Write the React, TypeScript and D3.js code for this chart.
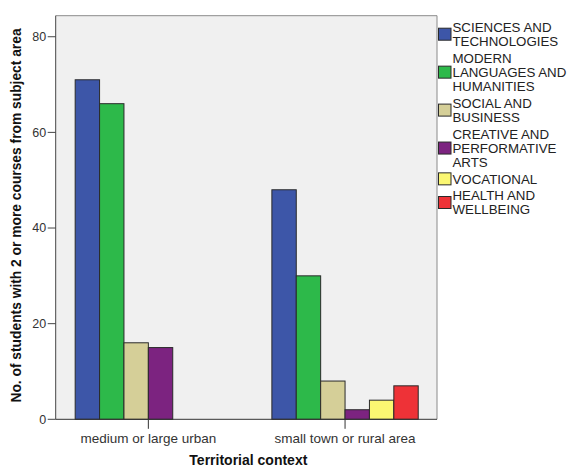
import React from "react";
import * as d3 from "d3";

const categories = ["medium or large urban", "small town or rural area"];
const seriesNames = [
  "SCIENCES AND TECHNOLOGIES",
  "MODERN LANGUAGES AND HUMANITIES",
  "SOCIAL AND BUSINESS",
  "CREATIVE AND PERFORMATIVE ARTS",
  "VOCATIONAL",
  "HEALTH AND WELLBEING",
];
const legendLines = [
  ["SCIENCES AND", "TECHNOLOGIES"],
  ["MODERN", "LANGUAGES AND", "HUMANITIES"],
  ["SOCIAL AND", "BUSINESS"],
  ["CREATIVE AND", "PERFORMATIVE", "ARTS"],
  ["VOCATIONAL"],
  ["HEALTH AND", "WELLBEING"],
];
const seriesColors = ["#3d56a8", "#2db94a", "#d5cf98", "#7c2380", "#fbf772", "#ee3237"];
const urbanValues = [71, 66, 16, 15, 0, 0];
const ruralValues = [48, 30, 8, 2, 4, 7];
const yTicks = [0, 20, 40, 60, 80];
const yTitle = "No. of students with 2 or more courses from subject area";
const xTitle = "Territorial context";

const values = [urbanValues, ruralValues];

export default function App() {
  const W = 567;
  const H = 467;
  const plotL = 55.7;
  const plotR = 437;
  const plotT = 15.7;
  const plotB = 419.3;

  const y = d3.scaleLinear().domain([0, 84.4]).range([plotB, plotT]);
  const x = d3
    .scaleBand<string>()
    .domain(categories)
    .range([50, 443.4])
    .paddingInner(0.256)
    .paddingOuter(0.128);
  const xs = d3
    .scaleBand<string>()
    .domain(seriesNames)
    .range([0, x.bandwidth()])
    .padding(0);

  const font = "'Liberation Sans', Arial, sans-serif";
  const lineH = 14.3;
  const gap = 2.2;
  let cursor = 22.3;
  const legendItems = legendLines.map((lines, i) => {
    const top = cursor;
    cursor += lines.length * lineH + gap;
    return { lines, top, i };
  });

  return (
    <svg width={W} height={H} style={{ position: "absolute", left: 0, top: 0 }} fontFamily={font}>
      <rect x={0} y={0} width={W} height={H} fill="#ffffff" />
      <rect x={plotL} y={plotT} width={plotR - plotL} height={plotB - plotT} fill="#f0f0f0" />
      <line x1={plotL} x2={plotR} y1={plotT} y2={plotT} stroke="#8a8a8a" />
      <line x1={plotR} x2={plotR} y1={plotT} y2={plotB} stroke="#8a8a8a" />

      {categories.map((c, ci) =>
        seriesNames.map((s, si) => {
          const v = values[ci][si];
          const bx = (x(c) as number) + (xs(s) as number);
          return (
            <rect
              key={c + s}
              x={bx}
              y={y(v)}
              width={xs.bandwidth()}
              height={y(0) - y(v)}
              fill={seriesColors[si]}
              stroke="#2a2a2a"
              strokeWidth={1}
            />
          );
        })
      )}

      <line x1={plotL} x2={plotL} y1={plotT} y2={plotB} stroke="#444" />
      <line x1={plotL} x2={plotR} y1={plotB} y2={plotB} stroke="#333" />

      {yTicks.map((t) => (
        <g key={t}>
          <line x1={plotL - 8} x2={plotL} y1={y(t)} y2={y(t)} stroke="#444" />
          <text
            x={plotL - 9.5}
            y={y(t)}
            dy="0.35em"
            textAnchor="end"
            fontSize={12.5}
            fill="#333"
          >
            {t}
          </text>
        </g>
      ))}

      {categories.map((c) => {
        const cx = (x(c) as number) + x.bandwidth() / 2;
        return (
          <g key={c}>
            <line x1={cx} x2={cx} y1={plotB} y2={plotB + 9.5} stroke="#333" />
            <text x={cx} y={442.8} textAnchor="middle" fontSize={13.5} fill="#333">
              {c}
            </text>
          </g>
        );
      })}

      <text
        x={(plotL + plotR) / 2 + 2}
        y={465}
        textAnchor="middle"
        fontSize={14}
        fontWeight="bold"
        fill="#111"
      >
        {xTitle}
      </text>
      <text
        transform={`translate(21,${(plotT + plotB) / 2 - 2}) rotate(-90)`}
        textAnchor="middle"
        fontSize={13.8}
        fontWeight="bold"
        fill="#111"
      >
        {yTitle}
      </text>

      {legendItems.map(({ lines, top, i }) => {
        const capH = 9.5;
        const blockMid = top + ((lines.length - 1) * lineH + capH) / 2;
        return (
          <g key={i}>
            <rect
              x={438.5}
              y={blockMid - 6}
              width={12.5}
              height={12}
              fill={seriesColors[i]}
              stroke="#2a2a2a"
              strokeWidth={1}
            />
            {lines.map((ln, li) => (
              <text key={li} x={452.5} y={top + capH + li * lineH} fontSize={13.3} fill="#222">
                {ln}
              </text>
            ))}
          </g>
        );
      })}
    </svg>
  );
}
